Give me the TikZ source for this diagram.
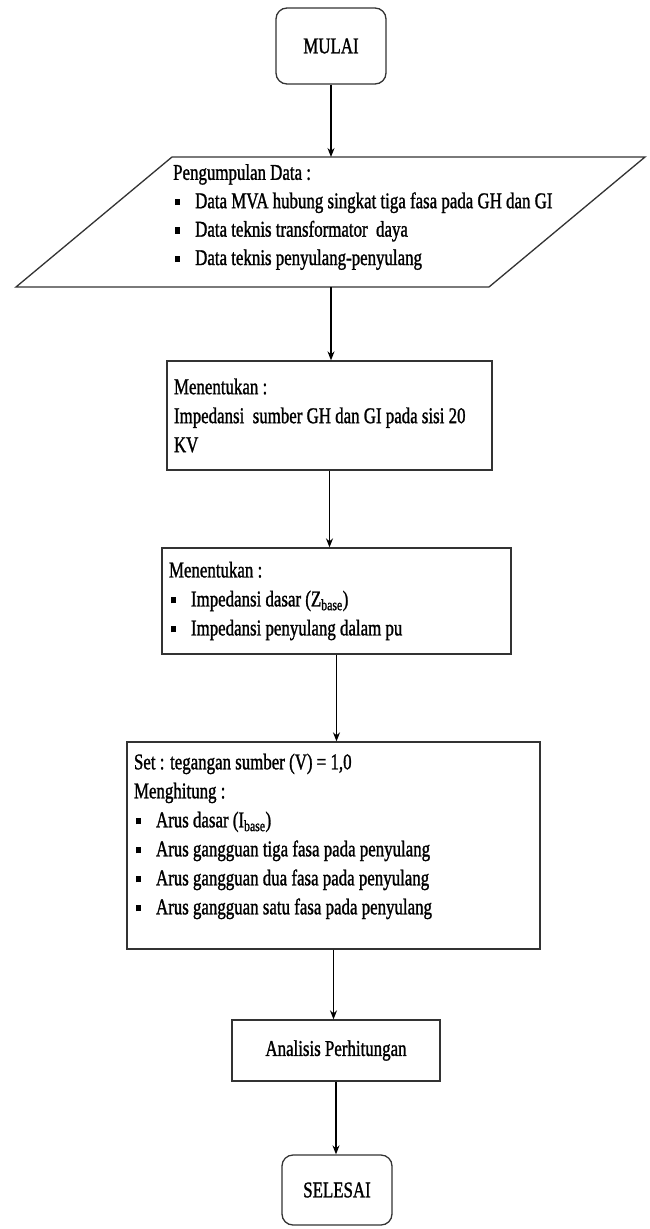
\documentclass[tikz,border=0pt]{standalone}
\usepackage{fontspec}
\setmainfont{Liberation Serif}[FakeStretch=0.75,FakeBold=1.2]
\usepackage{tikz}
\usetikzlibrary{arrows.meta,positioning,calc}
\newcommand{\blt}[1]{\makebox[22pt][l]{\hspace{2pt}\rule[3pt]{4.5pt}{6.5pt}}#1}
\tikzset{
  tnode/.style={rectangle,rounded corners=11pt,draw=black!80,line width=1.3pt,minimum width=110pt,inner sep=0pt},
  pnode/.style={rectangle,draw=black!80,line width=1.3pt,align=flush left,inner xsep=7pt,inner ysep=0pt},
  fe/.style={-{Stealth[length=9pt,width=7pt]},line width=1.3pt}
}
\begin{document}
\begin{tikzpicture}[x=1pt,y=-1pt,font=\fontsize{22.5}{29}\selectfont]
\useasboundingbox (0,0) rectangle (650,1229);
\node[tnode,minimum height=76pt] (mulai) at (331,46) {MULAI};
% input data
\draw[draw=black!80,line width=1.3pt] (172,157) -- (645,157) -- (489,287) -- (16,287) -- cycle;
\coordinate (dtop) at (331,157);
\coordinate (dbot) at (331,287);
\node[align=left,anchor=north west,inner sep=0pt,font=\fontsize{22.5}{28.4}\selectfont] (data) at (173,164)
  {Pengumpulan Data :\\ \blt{Data MVA hubung singkat tiga fasa pada GH dan GI}\\
   \blt{Data teknis transformator\ \ daya}\\ \blt{Data teknis penyulang-penyulang}};
\node[pnode,text width=311pt,minimum height=109pt] (imps) at (329.5,415.5)
  {Menentukan :\\ Impedansi\ \ sumber GH dan GI pada sisi 20\\ KV};
\node[pnode,text width=335pt,minimum height=106pt] (impd) at (336.5,601)
  {Menentukan :\\ \blt{Impedansi dasar (Z\textsubscript{base})}\\ \blt{Impedansi penyulang dalam pu}};
\node[pnode,text width=399pt,minimum height=207pt] (hitung) at (333.5,845.5)
  {Set : tegangan sumber (V) = 1,0\\ Menghitung :\\ \blt{Arus dasar (I\textsubscript{base})}\\
   \blt{Arus gangguan tiga fasa pada penyulang}\\ \blt{Arus gangguan dua fasa pada penyulang}\\
   \blt{Arus gangguan satu fasa pada penyulang}\\[-6pt]\mbox{}};
\node[pnode,align=flush center,text width=194pt,minimum height=61pt] (anl) at (336,1050.5) {Analisis Perhitungan};
\node[tnode,minimum height=70pt] (selesai) at (337,1190) {SELESAI};
\draw[fe] (mulai.south) -- (dtop);
\draw[fe] (dbot) -- (dbot |- imps.north);
\draw[fe] (imps.south) -- (imps.south |- impd.north);
\draw[fe] (impd.south) -- (impd.south |- hitung.north);
\draw[fe] (hitung.south) -- (hitung.south |- anl.north);
\draw[fe] (anl.south) -- (anl.south |- selesai.north);
\end{tikzpicture}
\end{document}
